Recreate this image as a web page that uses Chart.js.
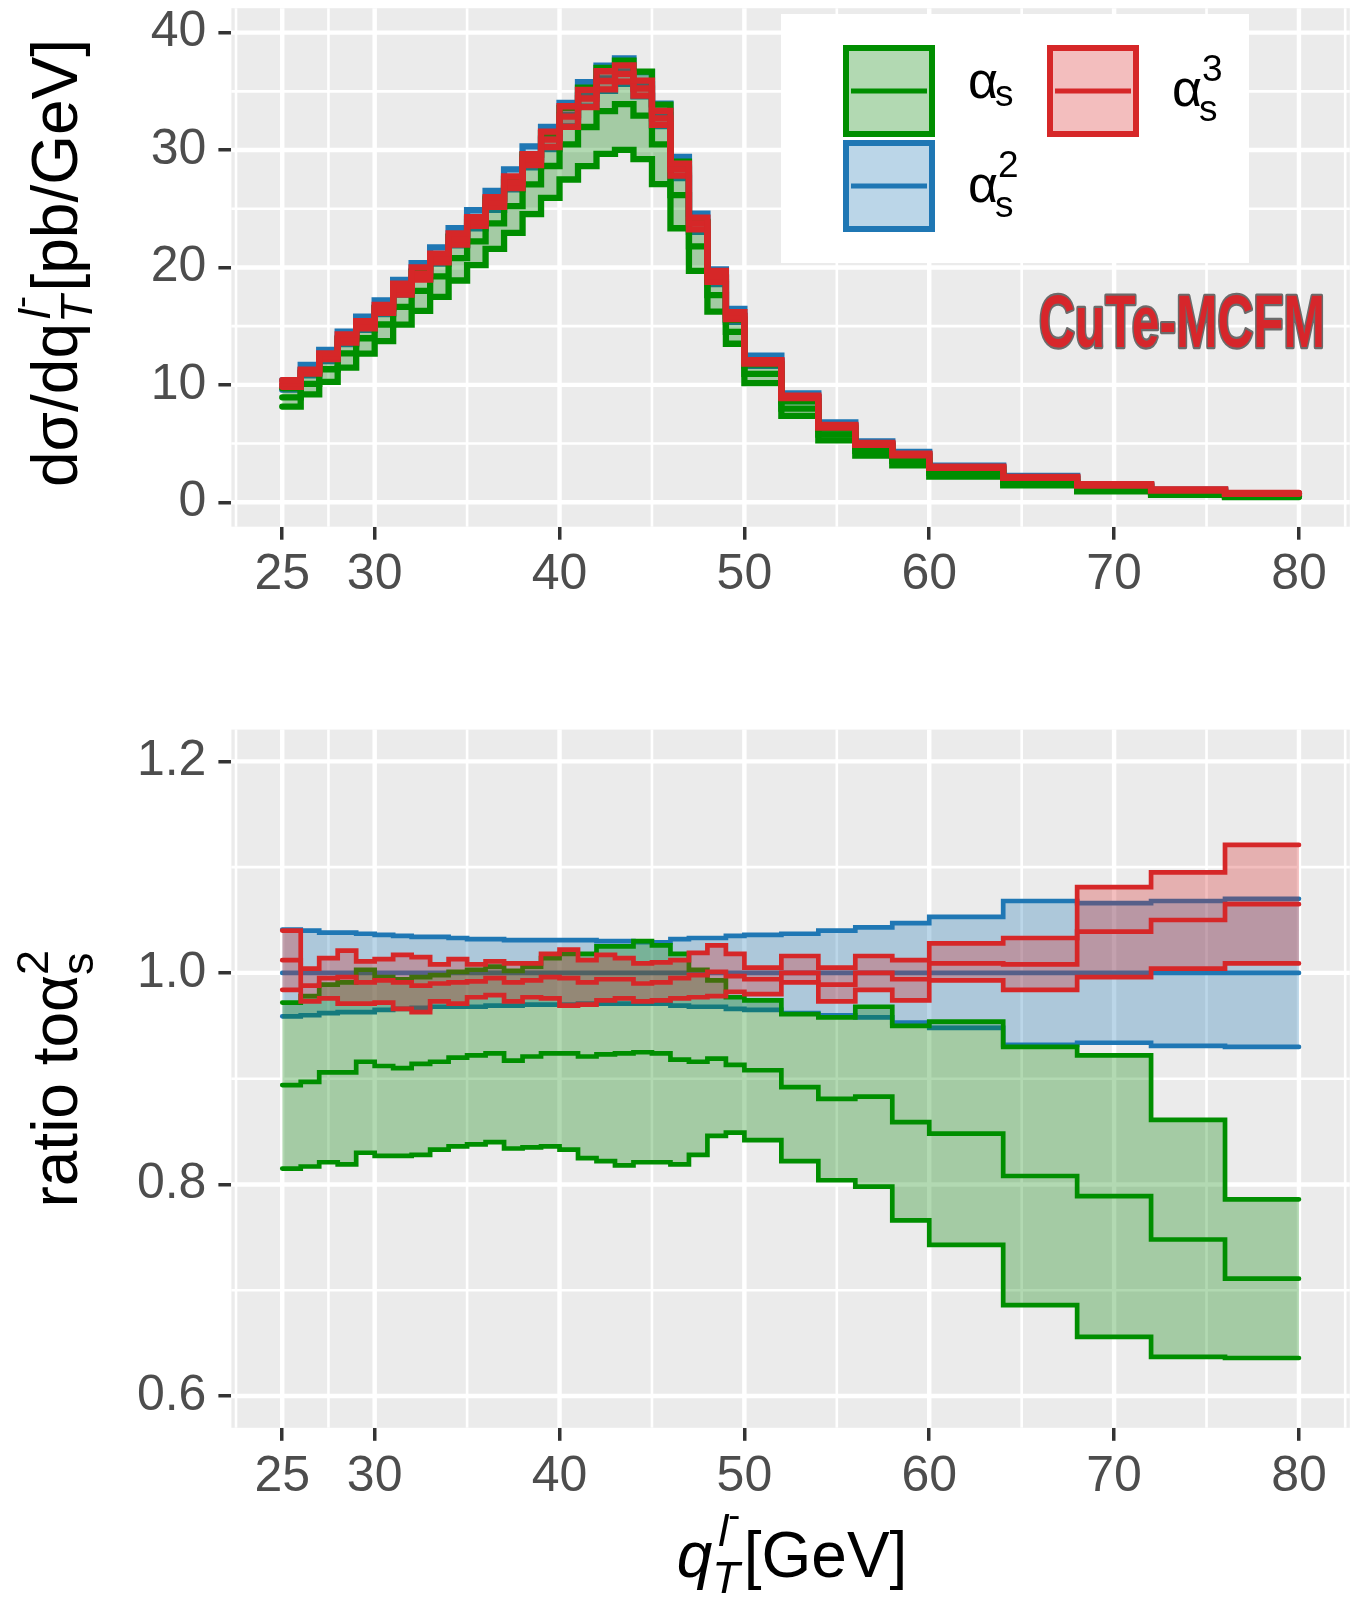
<!DOCTYPE html>
<html>
<head>
<meta charset="utf-8">
<script src="https://cdn.jsdelivr.net/npm/chart.js@4.4.1/dist/chart.umd.min.js"></script>
<style>
  html, body { margin: 0; padding: 0; background: #fff; }
  #wrap { position: relative; width: 1353px; height: 1597px; }
  canvas { position: absolute; left: 0; }
  #topChart { top: 0; }
  #ratioChart { top: 640px; }
</style>
</head>
<body>
<div id="wrap">
  <canvas id="topChart" width="1353" height="640"></canvas>
  <canvas id="ratioChart" width="1353" height="957"></canvas>
</div>
<script>
// bin edges in GeV (35 bins)
const binEdges = [25,26,27,28,29,30,31,32,33,34,35,36,37,38,39,40,41,42,43,44,45,46,47,48,49,50,52,54,56,58,60,64,68,72,76,80];
const xTicks = [25, 30, 40, 50, 60, 70, 80];
const xMinor = [22.5, 27.5, 35, 45, 55, 65, 75, 82.5];
const topYTicks = [0, 10, 20, 30, 40];
const topYMinor = [5, 15, 25, 35];
const ratioYTicks = [0.6, 0.8, 1.0, 1.2];
const ratioYMinor = [0.7, 0.9, 1.1];

// top panel: d sigma / d qT [pb/GeV]
const xsecGreenHi  = [9.72,11.00,12.36,13.87,15.30,16.53,18.19,19.62,20.96,22.62,24.17,25.85,27.56,29.58,31.43,33.59,35.32,37.00,37.62,36.67,33.86,29.01,23.87,19.07,15.53,11.74,8.60,6.27,4.81,3.90,2.81,1.95,1.31,0.86,0.56];
const xsecGreenMid = [8.94,10.09,11.33,12.68,13.97,15.14,16.65,18.01,19.24,20.79,22.22,23.75,25.22,27.08,28.64,30.49,31.96,33.32,33.91,32.93,30.49,26.16,21.80,17.64,14.52,10.94,7.98,5.77,4.39,3.52,2.50,1.70,1.12,0.75,0.50];
const xsecGreenLo  = [8.15,9.19,10.26,11.47,12.66,13.73,15.13,16.31,17.49,18.89,20.20,21.59,22.94,24.55,25.92,27.49,28.63,29.67,30.02,29.23,27.09,23.34,19.71,16.24,13.50,10.15,7.36,5.27,3.97,3.14,2.19,1.44,0.93,0.64,0.45];
const xsecBlueHi   = [10.41,11.70,12.98,14.53,15.81,17.20,18.94,20.37,21.71,23.35,24.87,26.52,28.35,30.31,31.96,34.02,35.78,37.18,37.80,36.63,33.96,29.41,24.59,19.83,16.46,12.48,9.28,6.81,5.18,4.29,3.11,2.24,1.51,1.07,0.76];
const xsecBlueMid  = [10.0,11.25,12.5,14.0,15.25,16.6,18.3,19.7,21.0,22.6,24.1,25.7,27.5,29.4,31.0,33.0,34.7,36.1,36.7,35.6,33.0,28.5,23.8,19.2,15.9,12.05,8.95,6.55,4.97,4.1,2.95,2.1,1.42,1.0,0.71];
const xsecBlueLo   = [9.59,10.80,12.03,13.48,14.69,16.02,17.68,19.05,20.33,21.88,23.33,24.90,26.65,28.52,30.07,32.01,33.69,35.05,35.64,34.57,32.04,27.62,23.04,18.59,15.36,11.63,8.61,6.29,4.76,3.91,2.80,1.96,1.33,0.93,0.66];
const xsecRedHi    = [10.40,11.30,12.68,14.29,15.42,16.82,18.61,20.00,21.17,22.89,24.29,25.98,27.75,29.66,31.56,33.73,35.12,36.71,37.21,35.92,33.33,28.84,24.25,19.70,16.19,12.11,9.09,6.58,5.05,4.15,3.03,2.17,1.54,1.10,0.80];
const xsecRedMid   = [10.12,11.12,12.44,13.94,15.11,16.48,18.14,19.46,20.79,22.40,23.91,25.57,27.25,29.19,30.88,32.84,34.39,35.88,36.48,35.24,32.70,28.36,23.75,19.22,15.85,11.98,8.95,6.48,4.97,4.08,2.98,2.12,1.48,1.05,0.76];
const xsecRedLo    = [9.84,10.95,12.20,13.59,14.81,16.14,17.68,18.97,20.43,21.94,23.55,25.16,26.76,28.72,30.26,31.98,33.66,35.16,35.82,34.64,32.14,27.82,23.25,18.78,15.61,11.81,8.87,6.37,4.89,3.99,2.93,2.07,1.41,1.00,0.72];

// bottom panel: ratio to alpha_s^2 central
const ratioGreenHi  = [0.972,0.978,0.989,0.991,1.003,0.996,0.994,0.996,0.998,1.001,1.003,1.006,1.002,1.006,1.014,1.018,1.018,1.025,1.025,1.030,1.026,1.018,1.003,0.993,0.977,0.974,0.961,0.958,0.968,0.950,0.954,0.930,0.922,0.861,0.786];
const ratioGreenMid = [0.894,0.897,0.906,0.906,0.916,0.912,0.910,0.914,0.916,0.920,0.922,0.924,0.917,0.921,0.924,0.924,0.921,0.923,0.924,0.925,0.924,0.918,0.916,0.919,0.913,0.908,0.892,0.881,0.883,0.859,0.848,0.808,0.789,0.748,0.711];
const ratioGreenLo  = [0.815,0.817,0.821,0.819,0.830,0.827,0.827,0.828,0.833,0.836,0.838,0.840,0.834,0.835,0.836,0.833,0.825,0.822,0.818,0.821,0.821,0.819,0.828,0.846,0.849,0.842,0.822,0.804,0.798,0.766,0.743,0.686,0.656,0.637,0.636];
const ratioBlueHi   = [1.041,1.040,1.038,1.038,1.037,1.036,1.035,1.034,1.034,1.033,1.032,1.032,1.031,1.031,1.031,1.031,1.031,1.030,1.030,1.029,1.029,1.032,1.033,1.033,1.035,1.036,1.037,1.040,1.043,1.047,1.053,1.068,1.066,1.068,1.070];
const ratioBlueMid  = [1,1,1,1,1,1,1,1,1,1,1,1,1,1,1,1,1,1,1,1,1,1,1,1,1,1,1,1,1,1,1,1,1,1,1];
const ratioBlueLo   = [0.959,0.960,0.962,0.963,0.963,0.965,0.966,0.967,0.968,0.968,0.968,0.969,0.969,0.970,0.970,0.970,0.971,0.971,0.971,0.971,0.971,0.969,0.968,0.968,0.966,0.965,0.962,0.960,0.958,0.953,0.948,0.932,0.934,0.931,0.930];
const ratioRedHi    = [1.040,1.004,1.014,1.021,1.011,1.013,1.017,1.015,1.008,1.013,1.008,1.011,1.009,1.009,1.018,1.022,1.012,1.017,1.014,1.009,1.010,1.012,1.019,1.026,1.018,1.005,1.016,1.005,1.016,1.012,1.028,1.033,1.081,1.095,1.121];
const ratioRedMid   = [1.012,0.988,0.995,0.996,0.991,0.993,0.991,0.988,0.990,0.991,0.992,0.995,0.991,0.993,0.996,0.995,0.991,0.994,0.994,0.990,0.991,0.995,0.998,1.001,0.997,0.994,1.000,0.989,1.000,0.994,1.009,1.008,1.039,1.050,1.065];
const ratioRedLo    = [0.984,0.973,0.976,0.971,0.971,0.972,0.966,0.963,0.973,0.971,0.977,0.979,0.973,0.977,0.976,0.969,0.970,0.974,0.976,0.973,0.974,0.976,0.977,0.978,0.982,0.980,0.991,0.973,0.984,0.974,0.993,0.984,0.996,1.004,1.009];

const GREEN = "rgb(0,142,0)", GREEN_FILL = "rgba(0,130,0,0.3)";
const BLUE = "rgb(31,119,180)", BLUE_FILL = "rgba(31,119,180,0.3)";
const RED = "rgb(214,39,40)", RED_FILL = "rgba(214,39,40,0.3)";
const FONT = '"Liberation Sans", Arial, sans-serif';

function stepPoints(vals) {
  const pts = vals.map((v, i) => ({ x: binEdges[i], y: v }));
  pts.push({ x: binEdges[binEdges.length - 1], y: vals[vals.length - 1] });
  return pts;
}

// one order = filled ribbon + three step lines
function orderDatasets(startIndex, hi, mid, lo, col, fillCol, order, width) {
  const line = { borderColor: col, borderWidth: width, pointRadius: 0, stepped: true,
                 fill: false, borderCapStyle: "round", borderJoinStyle: "miter", order };
  return [
    { data: stepPoints(hi), borderWidth: 0, pointRadius: 0, stepped: true,
      backgroundColor: fillCol, fill: { target: startIndex + 3 }, order: order + 0.5 },
    { ...line, data: stepPoints(hi) },
    { ...line, data: stepPoints(mid) },
    { ...line, data: stepPoints(lo) },
  ];
}

function fontStr(size, italic) { return (italic ? "italic " : "") + size + "px " + FONT; }
function runWidth(ctx, run) {
  let w = 0;
  for (const p of run) {
    if (p.stack) w += Math.max(...p.stack.map(r => runWidth(ctx, r)));
    else { ctx.font = fontStr(p.s, p.it); w += ctx.measureText(p.t).width + (p.gap || 0); }
  }
  return w;
}
function drawRun(ctx, run, x, y) {
  for (const p of run) {
    if (p.stack) {
      const w = Math.max(...p.stack.map(r => runWidth(ctx, r)));
      p.stack.forEach(r => drawRun(ctx, r, x, y));
      x += w;
    } else {
      ctx.font = fontStr(p.s, p.it);
      ctx.fillText(p.t, x + (p.dx || 0), y + (p.dy || 0));
      x += ctx.measureText(p.t).width + (p.gap || 0);
    }
  }
  return x;
}
function drawCentered(ctx, run, cx, cy, rotate) {
  ctx.save();
  ctx.translate(cx, cy);
  if (rotate) ctx.rotate(-Math.PI / 2);
  ctx.fillStyle = "#000";
  ctx.textBaseline = "alphabetic";
  ctx.textAlign = "left";
  drawRun(ctx, run, -runWidth(ctx, run) / 2, 0);
  ctx.restore();
}

function panelPlugin(yMinor, yMajor) {
  return {
    id: "panel",
    beforeDatasetsDraw(chart) {
      const { ctx, chartArea: a, scales: { x, y } } = chart;
      ctx.save();
      ctx.fillStyle = "#EBEBEB";
      ctx.fillRect(a.left, a.top, a.right - a.left, a.bottom - a.top);
      ctx.strokeStyle = "#FFFFFF";
      const hline = (v, w) => { const p = y.getPixelForValue(v); ctx.lineWidth = w; ctx.beginPath(); ctx.moveTo(a.left, p); ctx.lineTo(a.right, p); ctx.stroke(); };
      const vline = (v, w) => { const p = x.getPixelForValue(v); ctx.lineWidth = w; ctx.beginPath(); ctx.moveTo(p, a.top); ctx.lineTo(p, a.bottom); ctx.stroke(); };
      yMinor.forEach(v => hline(v, 2.6));
      xMinor.forEach(v => vline(v, 2.6));
      yMajor.forEach(v => hline(v, 4.4));
      xTicks.forEach(v => vline(v, 4.4));
      ctx.restore();
    }
  };
}

function makeScales(yMin, yMax, yTickVals, axisWidth, axisHeight, fmt) {
  const tickFont = { family: FONT, size: 50 };
  const grid = { display: true, drawOnChartArea: false, drawTicks: true, tickLength: 13, tickWidth: 3.5, lineWidth: 3.5, tickColor: "#333333" };
  return {
    x: {
      type: "linear", min: 22.25, max: 82.75,
      afterBuildTicks: s => { s.ticks = xTicks.map(v => ({ value: v })); },
      afterFit: s => { s.height = axisHeight; s.paddingLeft = 0; s.paddingRight = 0; },
      ticks: { font: tickFont, color: "#4D4D4D", autoSkip: false, maxRotation: 0, padding: 6, callback: v => String(v) },
      grid, border: { display: false },
    },
    y: {
      type: "linear", min: yMin, max: yMax,
      afterBuildTicks: s => { s.ticks = yTickVals.map(v => ({ value: v })); },
      afterFit: s => { s.width = axisWidth; s.paddingTop = 0; s.paddingBottom = 0; },
      ticks: { font: tickFont, color: "#4D4D4D", padding: 12, callback: fmt },
      grid, border: { display: false },
    },
  };
}

function alphaLabel(ctx, x, yc, sup) {
  ctx.fillStyle = "#000";
  ctx.font = fontStr(52, false);
  const aw = ctx.measureText("α").width;
  if (!sup) {
    ctx.fillText("α", x, yc + 8);
    ctx.font = fontStr(37, false);
    ctx.fillText("s", x + aw - 3, yc + 16);
  } else {
    ctx.fillText("α", x, yc + 16);
    ctx.font = fontStr(37, false);
    ctx.fillText("s", x + aw - 3, yc + 31);
    ctx.fillText(sup, x + aw, yc - 9);
  }
}
function legendKey(ctx, x, y, s, col, fillCol) {
  ctx.fillStyle = "#fff";
  ctx.fillRect(x, y, s, s);
  ctx.fillStyle = fillCol;
  ctx.fillRect(x, y, s, s);
  ctx.strokeStyle = col;
  ctx.lineWidth = 6;
  ctx.strokeRect(x + 3, y + 3, s - 6, s - 6);
  ctx.lineWidth = 5;
  ctx.beginPath();
  ctx.moveTo(x + 8, y + s / 2);
  ctx.lineTo(x + s - 8, y + s / 2);
  ctx.stroke();
}

const topDecor = {
  id: "topDecor",
  afterDraw(chart) {
    const ctx = chart.ctx;
    ctx.save();
    // legend
    ctx.fillStyle = "#fff";
    ctx.fillRect(781, 14, 468, 249);
    legendKey(ctx, 843, 45, 92, GREEN, GREEN_FILL);
    legendKey(ctx, 843, 140, 92, BLUE, BLUE_FILL);
    legendKey(ctx, 1047, 45, 92, RED, RED_FILL);
    alphaLabel(ctx, 968, 90, null);
    alphaLabel(ctx, 968, 186, "2");
    alphaLabel(ctx, 1172, 90, "3");
    // logo
    ctx.font = "bold 100px \"Liberation Sans Narrow\", \"Liberation Sans\", sans-serif";
    const m = ctx.measureText("CuTe-MCFM");
    const sx = 286 / m.width, sy = 52 / m.actualBoundingBoxAscent;
    ctx.translate(1039, 347);
    ctx.scale(sx, sy);
    ctx.strokeStyle = "#6b6b6b";
    ctx.lineWidth = 6;
    ctx.lineJoin = "round";
    ctx.strokeText("CuTe-MCFM", 0, 0);
    ctx.fillStyle = "#D7262B";
    ctx.fillText("CuTe-MCFM", 0, 0);
    ctx.restore();
    // y title
    drawCentered(ctx, [
      { t: "dσ/dq", s: 64 },
      { stack: [[{ t: "T", s: 45, it: true, dy: 15 }], [{ t: "l", s: 45, it: true, dy: -27, dx: 4 }, { t: "-", s: 36, dy: -44, dx: 5 }]] },
      { t: "[pb/GeV]", s: 64, dx: 4 },
    ], 77, 265, true);
  }
};

const ratioDecor = {
  id: "ratioDecor",
  afterDraw(chart) {
    const ctx = chart.ctx;
    drawCentered(ctx, [
      { t: "ratio to", s: 64 },
      { t: "α", s: 64 },
      { stack: [[{ t: "s", s: 45, dy: 16 }], [{ t: "2", s: 45, dy: -29 }]] },
    ], 77, 438.7, true);
    drawCentered(ctx, [
      { t: "q", s: 64, it: true },
      { stack: [[{ t: "T", s: 45, it: true, dy: 16 }], [{ t: "l", s: 45, it: true, dy: -31, dx: 6 }, { t: "-", s: 36, dy: -50, dx: 6 }]] },
      { t: "[GeV]", s: 64, dx: 4 },
    ], 790, 937, false);
  }
};

const topDatasets = [
  ...orderDatasets(0, xsecBlueHi, xsecBlueMid, xsecBlueLo, BLUE, BLUE_FILL, 3, 6.3),
  ...orderDatasets(4, xsecGreenHi, xsecGreenMid, xsecGreenLo, GREEN, GREEN_FILL, 2, 6.3),
  ...orderDatasets(8, xsecRedHi, xsecRedMid, xsecRedLo, RED, RED_FILL, 1, 6.3),
];
const ratioDatasets = [
  ...orderDatasets(0, ratioBlueHi, ratioBlueMid, ratioBlueLo, BLUE, BLUE_FILL, 3, 4.7),
  ...orderDatasets(4, ratioGreenHi, ratioGreenMid, ratioGreenLo, GREEN, GREEN_FILL, 2, 4.7),
  ...orderDatasets(8, ratioRedHi, ratioRedMid, ratioRedLo, RED, RED_FILL, 1, 4.7),
];

const common = {
  responsive: false, maintainAspectRatio: false, animation: false, devicePixelRatio: 1,
  plugins: { legend: { display: false }, tooltip: { enabled: false } },
  elements: { line: { tension: 0 } },
};

new Chart(document.getElementById("topChart"), {
  type: "line",
  data: { datasets: topDatasets },
  options: {
    ...common,
    layout: { padding: { left: 0, right: 3.2, top: 8.2, bottom: 0 } },
    scales: makeScales(-2.08, 42.08, topYTicks, 231.4, 113.3, v => String(v)),
  },
  plugins: [panelPlugin(topYMinor, topYTicks), topDecor],
});

new Chart(document.getElementById("ratioChart"), {
  type: "line",
  data: { datasets: ratioDatasets },
  options: {
    ...common,
    layout: { padding: { left: 0, right: 3.2, top: 89.6, bottom: 0 } },
    scales: makeScales(0.57, 1.23, ratioYTicks, 231.4, 169.2, v => Number(v).toFixed(1)),
  },
  plugins: [panelPlugin(ratioYMinor, ratioYTicks), ratioDecor],
});
</script>
</body>
</html>
